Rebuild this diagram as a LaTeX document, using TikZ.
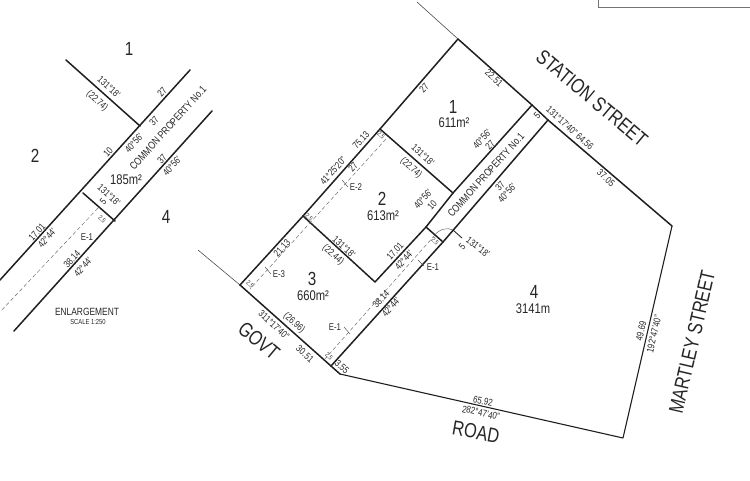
\documentclass[tikz,border=0pt]{standalone}
\usepackage{fontspec}
\setmainfont{Liberation Sans}[FakeStretch=0.8]
\tikzset{
  bound/.style={line width=1.5pt,draw=black!88,line cap=round,line join=round},
  thinl/.style={line width=0.55pt,draw=black!75},
  ease/.style={line width=0.45pt,draw=black!60,dash pattern=on 4pt off 2.5pt},
  tickl/.style={line width=0.45pt,draw=black!70},
  dim/.style={inner sep=0pt,font=\fontsize{9.8}{10}\selectfont,text=black!85},
  tiny/.style={inner sep=0pt,font=\fontsize{6.6}{7}\selectfont,text=black!80},
  lotn/.style={inner sep=0pt,font=\fontsize{19}{20}\selectfont,text=black!85},
  area/.style={inner sep=0pt,font=\fontsize{14}{15}\selectfont,text=black!85},
  cprop/.style={inner sep=0pt,font=\fontsize{10.6}{11}\selectfont,text=black!85},
  street/.style={inner sep=0pt,font=\fontsize{20.5}{21}\selectfont,text=black!85},
}
\begin{document}
\begin{tikzpicture}[x=1pt,y=-1pt]
\useasboundingbox (0,0) rectangle (750,480);
% frame fragment, top right
\draw[line width=0.5pt,draw=black!55] (598,0) -- (598,7) -- (750,7);
% named corners, main plan
\coordinate (top) at (458,39);
\coordinate (topthin) at (417,2);
\coordinate (sa) at (532,105);
\coordinate (sb) at (548,120);
\coordinate (se) at (672,226);
\coordinate (sw) at (623,438);
\coordinate (rd) at (340,374);
\coordinate (cw) at (240,285);
\coordinate (cwthin) at (198,250);
\coordinate (w12) at (380,129);
\coordinate (w23) at (303,216);
\coordinate (m12) at (453,193);
\coordinate (ma) at (426,227);
\coordinate (mb) at (443,242);
\coordinate (m23) at (375,282);
\coordinate (gb) at (331,366);
% main boundaries
\draw[thinl] (topthin) -- (top);
\draw[thinl] (cwthin) -- (cw);
\draw[bound] (cw) -- (w23) -- (w12) -- (top) -- (sa) -- (sb) -- (se);
\draw[line width=1.1pt,draw=black!88,line join=round] (se) -- (sw) -- (rd);
\draw[bound] (rd) -- (gb) -- (cw);
\draw[bound] (w12) -- (m12);
\draw[bound] (sa) -- (m12) -- (ma) -- (m23) -- (w23);
\draw[bound] (sb) -- (mb) -- (gb);
\draw[bound] (ma) -- (mb);
% easements
\coordinate (e2a) at (386,139);
\coordinate (e2b) at (250,289);
\coordinate (e1a) at (435,235);
\coordinate (e1b) at (324,360);
\draw[ease] (e2a) -- (e2b);
\draw[ease] (e1a) -- (e1b);
% easement ticks and leader
\draw[tickl] (342,180) -- (348,187);
\draw[tickl] (265,267) -- (271,274);
\draw[tickl] (344,327) -- (350,334);
\draw[tickl] (418,260) -- (424,266);
\coordinate (lda) at (434,236);
\coordinate (ldb) at (453,230);
\coordinate (ldc) at (462,238);
\draw[line width=0.4pt,draw=black!70] (lda) .. controls (439,229) and (447,227) .. (ldb);
\draw[line width=0.9pt,draw=black!85] (ldb) -- (ldc);
% named corners, enlargement
\coordinate (a1) at (66,60);
\coordinate (a2) at (140,126);
\coordinate (a3) at (190,70);
\coordinate (a4) at (0,280);
\coordinate (a5) at (212,111);
\coordinate (a6) at (14,331);
\coordinate (a7) at (83,193);
\coordinate (a8) at (115,221);
\coordinate (a9) at (98,208);
\coordinate (a10) at (0,312);
\draw[bound] (a1) -- (a2);
\draw[bound] (a3) -- (a4);
\draw[bound] (a5) -- (a6);
\draw[bound] (a7) -- (a8);
\draw[ease] (a9) -- (a10);
% enlargement text
\node[lotn] (el1) at (129,49) {1};
\node[lotn] (el2) at (35,156) {2};
\node[lotn] (el4) at (166,217) {4};
\node[dim,rotate=-42] (et1) at (109,87) {131°18'};
\node[dim,rotate=-42] (et2) at (97,101) {(22.74)};
\node[dim,rotate=48] (et3) at (162,92) {27};
\node[dim,rotate=48] (et4) at (154,121) {37};
\node[dim,rotate=48] (et5) at (134,143) {40°56'};
\node[dim,rotate=48] (et6) at (108,152) {10};
\node[cprop,rotate=48] (et7) at (168,128) {COMMON PROPERTY No.1};
\node[dim,rotate=48] (et8) at (162,159) {37};
\node[dim,rotate=48] (et9) at (172,166) {40°56'};
\node[area] (et10) at (126,180) {185m²};
\node[dim,rotate=-42] (et11) at (109,195) {131°18'};
\node[dim,rotate=48] (et12) at (103,202) {5};
\node[tiny,rotate=-42] (et13) at (102,219) {2.5};
\node[dim] (et14) at (87,237) {E-1};
\node[dim,rotate=48] (et15) at (37,232) {17.01};
\node[dim,rotate=48] (et16) at (47,238) {42°44'};
\node[dim,rotate=48] (et17) at (72,259) {38.14};
\node[dim,rotate=48] (et18) at (83,267) {42°44'};
\node[inner sep=0pt,font=\fontsize{10.5}{11}\selectfont,text=black!85] (et19) at (87,312) {ENLARGEMENT};
\node[inner sep=0pt,font=\fontsize{7.3}{8}\selectfont,text=black!85] (et20) at (88,322) {SCALE 1:250};
% main text
\node[street,rotate=-40] (st) at (592,98) {STATION STREET};
\node[street,rotate=77] (mt) at (692,342) {MARTLEY STREET};
\node[street,rotate=-40] (gv) at (259,341) {GOVT};
\node[street,rotate=-10] (rr) at (476,432) {ROAD};
\node[lotn] (l1) at (453,107) {1};
\node[area] (a1t) at (454,123) {611m²};
\node[lotn] (l2) at (382,199) {2};
\node[area] (a2t) at (383,216) {613m²};
\node[lotn] (l3) at (312,279) {3};
\node[area] (a3t) at (313,296) {660m²};
\node[lotn] (l4) at (534,292) {4};
\node[area] (a4t) at (533,309) {3141m};
\node[dim,rotate=-42] (t1) at (494,78) {22.51};
\node[dim,rotate=48] (t2) at (424,88) {27};
\node[dim,rotate=-42] (t3) at (570,128) {131°17'40" 64.56};
\node[dim,rotate=48] (t4) at (537,116) {5};
\node[dim,rotate=-42] (t5) at (606,178) {37.05};
\node[dim,rotate=48] (t6) at (482,139) {40°56'};
\node[dim,rotate=48] (t7) at (490,145) {27};
\node[dim,rotate=-42] (t8) at (423,155) {131°18'};
\node[dim,rotate=-42] (t9) at (411,168) {(22.74)};
\node[dim,rotate=48] (t10) at (500,186) {37};
\node[dim,rotate=48] (t11) at (507,193) {40°56'};
\node[cprop,rotate=48] (t12) at (486,175) {COMMON PROPERTY No.1};
\node[dim,rotate=48] (t13) at (423,199) {40°56'};
\node[dim,rotate=48] (t14) at (432,205) {10};
\node[dim,rotate=-38] (t15) at (478,247) {131°18'};
\node[dim,rotate=48] (t16) at (462,247) {5};
\node[dim] (t17) at (433,267) {E-1};
\node[tiny,rotate=-42] (t18) at (435,241) {2.5};
\node[dim,rotate=48] (t19) at (395,251) {17.01};
\node[dim,rotate=48] (t20) at (404,260) {42°44'};
\node[dim,rotate=48] (t21) at (361,140) {75.13};
\node[dim,rotate=48] (t22) at (333,171) {41°25'20"};
\node[dim,rotate=48] (t23) at (353,167) {27};
\node[dim] (t24) at (356,187) {E-2};
\node[tiny,rotate=-42] (t25) at (381,135) {2.5};
\node[tiny,rotate=-42] (t26) at (309,217) {2.5};
\node[dim,rotate=48] (t27) at (282,248) {21.13};
\node[dim] (t28) at (279,274) {E-3};
\node[dim,rotate=-42] (t29) at (344,247) {131°18'};
\node[dim,rotate=-42] (t30) at (333,255) {(22.44)};
\node[tiny,rotate=-42] (t31) at (250,284) {2.5};
\node[dim,rotate=-42] (t32) at (294,323) {(26.96)};
\node[dim,rotate=-42] (t33) at (274,325) {311°17'40"};
\node[dim,rotate=-42] (t34) at (305,354) {30.51};
\node[dim,rotate=-42] (t35) at (342,367) {3.55};
\node[tiny,rotate=-42] (t36) at (329,356) {2.5};
\node[dim] (t37) at (335,327) {E-1};
\node[dim,rotate=48] (t38) at (381,299) {38.14};
\node[dim,rotate=48] (t39) at (391,307) {42°44'};
\node[dim,rotate=77] (t40) at (641,331) {49.69};
\node[dim,rotate=77] (t41) at (654,334) {192°47'40"};
\node[dim,rotate=-13] (t42) at (483,401) {65.92};
\node[dim,rotate=-13] (t43) at (481,413) {282°47'40"};
\end{tikzpicture}
\end{document}
